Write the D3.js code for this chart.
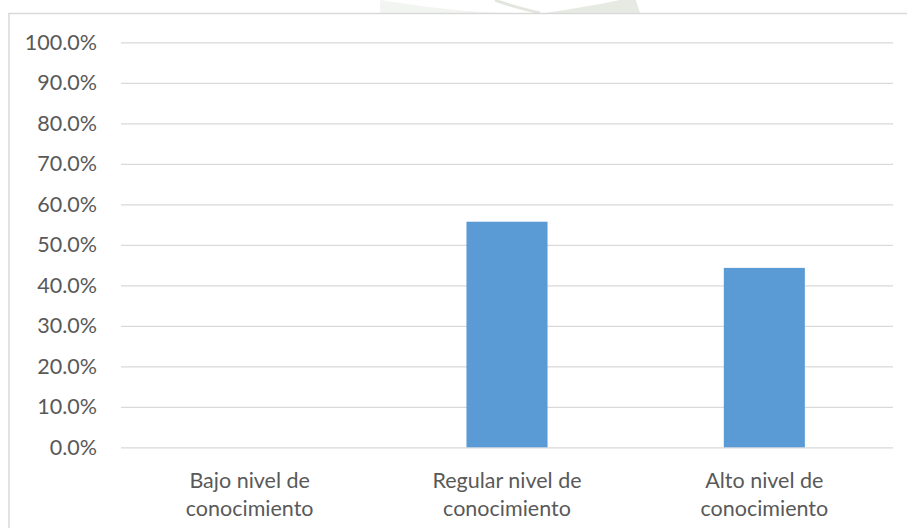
<!DOCTYPE html>
<html>
<head>
<meta charset="utf-8">
<script src="https://cdn.jsdelivr.net/npm/d3@7"></script>
<style>
  html, body { margin: 0; padding: 0; background: #fff; }
  svg { display: block; }
  text { font-family: Lato, "Open Sans", sans-serif; fill: #595959; }
</style>
</head>
<body>
<svg id="chart" width="907" height="528"></svg>
<script>
// Knowledge-level categories and their share of respondents
const categories = [
  ["Bajo nivel de", "conocimiento"],
  ["Regular nivel de", "conocimiento"],
  ["Alto nivel de", "conocimiento"]
];
const shares = [0.0, 0.557, 0.443];
const yTicks = [0, 0.1, 0.2, 0.3, 0.4, 0.5, 0.6, 0.7, 0.8, 0.9, 1.0];

const W = 907, H = 528;
const plot = { left: 121, right: 893, top: 42.3, bottom: 447.3 };
const fontSize = 21.5;

const svg = d3.select("#chart");

// faint watermark strokes peeking above the chart frame
const wm = svg.append("g");
wm.append("path")
  .attr("d", "M380,0 C430,8 480,14 530,13 L380,13 Z")
  .attr("fill", "#f3f5f2");
wm.append("path")
  .attr("d", "M495,0 C508,5 522,9 540,13")
  .attr("fill", "none").attr("stroke", "#e2e6df").attr("stroke-width", 3);
wm.append("path")
  .attr("d", "M545,13 C575,9 605,3 635,-3 L640,13 Z")
  .attr("fill", "#e6eae3");

// chart frame
svg.append("rect")
  .attr("x", 9).attr("y", 13.5)
  .attr("width", W + 10).attr("height", H + 10)
  .attr("fill", "#fff")
  .attr("stroke", "#d9d9d9").attr("stroke-width", 1.5);

const x = d3.scaleBand()
  .domain(d3.range(categories.length))
  .range([plot.left, plot.right])
  .paddingInner(0.685).paddingOuter(0.3425);

const y = d3.scaleLinear().domain([0, 1]).range([plot.bottom, plot.top]);

// horizontal gridlines + percentage labels
const yAxis = d3.axisLeft(y)
  .tickValues(yTicks)
  .tickFormat(d3.format(".1%"))
  .tickSize(-(plot.right - plot.left))
  .tickPadding(24);

const gy = svg.append("g")
  .attr("transform", `translate(${plot.left},0)`)
  .call(yAxis);
gy.select(".domain").remove();
gy.selectAll(".tick line").attr("stroke", "#d9d9d9").attr("stroke-width", 1.3);
gy.selectAll(".tick text")
  .attr("font-size", fontSize)
  .attr("fill", "#595959")
  .style("font-family", "Lato, 'Open Sans', sans-serif");

// bars
svg.append("g").selectAll("rect")
  .data(shares)
  .join("rect")
  .attr("x", (d, i) => x(i))
  .attr("width", x.bandwidth())
  .attr("y", d => y(d))
  .attr("height", d => y(0) - y(d))
  .attr("fill", "#5b9bd5");

// category labels, two lines each
const cx = i => x(i) + x.bandwidth() / 2;
const labels = svg.append("g").selectAll("text")
  .data(categories)
  .join("text")
  .attr("text-anchor", "middle")
  .attr("font-size", fontSize);
labels.each(function(lines, i) {
  const t = d3.select(this);
  lines.forEach((ln, k) => {
    t.append("tspan")
      .attr("x", cx(i))
      .attr("y", 487.5 + k * 28)
      .text(ln);
  });
});
</script>
</body>
</html>
